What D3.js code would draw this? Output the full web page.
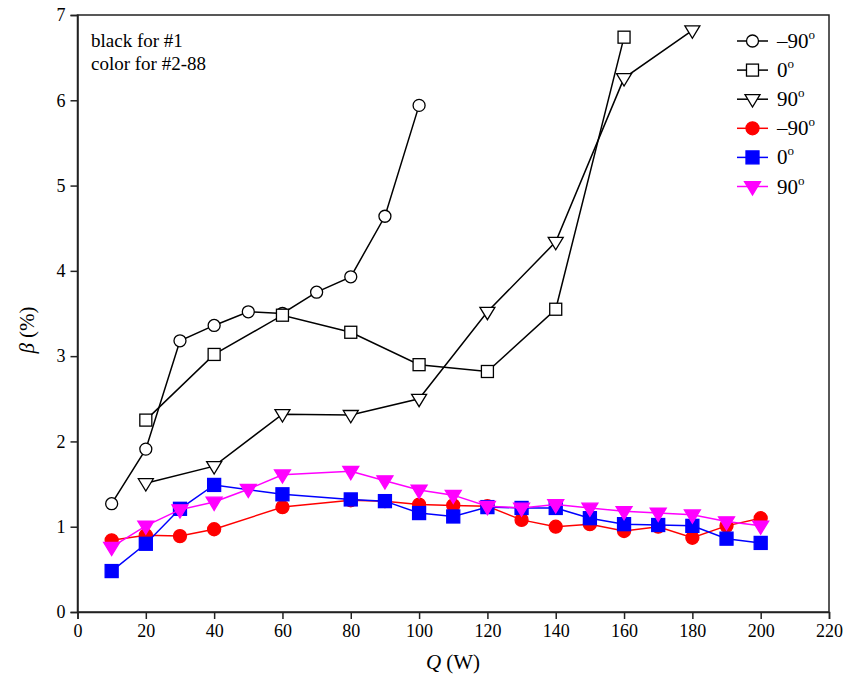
<!DOCTYPE html>
<html><head><meta charset="utf-8">
<script src="https://cdn.jsdelivr.net/npm/d3@7"></script>
</head><body style="margin:0">
<script>
const qBlackCircle = [10,20,30,40,50,60,70,80,90,100];
const bBlackCircle = [1.27,1.91,3.18,3.36,3.52,3.50,3.75,3.93,4.64,5.94];
const qBlackSquare = [20,40,60,80,100,120,140,160];
const bBlackSquare = [2.25,3.02,3.48,3.28,2.90,2.82,3.55,6.74];
const qBlackTri = [20,40,60,80,100,120,140,160,180];
const bBlackTri = [1.51,1.71,2.32,2.31,2.50,3.52,4.34,6.26,6.82];
const qRed = [10,20,30,40,60,80,90,100,110,120,130,140,150,160,170,180,190,200];
const bRed = [0.84,0.90,0.89,0.97,1.23,1.31,1.30,1.26,1.25,1.24,1.08,1.00,1.03,0.95,1.00,0.87,1.01,1.10];
const qBlue = [10,20,30,40,60,80,90,100,110,120,130,140,150,160,170,180,190,200];
const bBlue = [0.48,0.80,1.21,1.49,1.38,1.32,1.30,1.16,1.12,1.23,1.22,1.22,1.10,1.03,1.02,1.01,0.86,0.81];
const qMag = [10,20,30,40,50,60,80,90,100,110,120,130,140,150,160,170,180,190,200];
const bMag = [0.76,1.01,1.20,1.29,1.44,1.61,1.65,1.54,1.43,1.37,1.24,1.22,1.26,1.22,1.18,1.16,1.14,1.06,1.01];
const xTicks = [0,20,40,60,80,100,120,140,160,180,200,220];
const yTicks = [0,1,2,3,4,5,6,7];
const legendLabels = ["\u201390","0","90","\u201390","0","90"];
const annotation = ["black for #1","color for #2-88"];

const FONT="Liberation Serif, Times New Roman, serif";
const W=848,H=680, L=77.5,R=829,T=15,B=612;
const svg=d3.select("body").append("svg").attr("width",W).attr("height",H).style("display","block");
const x=d3.scaleLinear().domain([0,220]).range([L,R]);
const y=d3.scaleLinear().domain([0,7]).range([B,T]);
function ff(sel){ return sel.attr("font-family",FONT).style("font-family",FONT,"important"); }

svg.append("rect").attr("x",L).attr("y",T).attr("width",R-L).attr("height",B-T).attr("fill","none").attr("stroke","#222").attr("stroke-width",1.5);

const xa=svg.append("g").attr("transform",`translate(0,${B})`).call(d3.axisBottom(x).tickValues(xTicks).tickSize(7).tickPadding(5).tickFormat(d3.format("d")));
const ya=svg.append("g").attr("transform",`translate(${L},0)`).call(d3.axisLeft(y).tickValues(yTicks).tickSize(7).tickPadding(5).tickFormat(d3.format("d")));
[xa,ya].forEach(a=>{ff(a).attr("font-size",18);
 a.select(".domain").attr("stroke","#222").attr("stroke-width",1.5);
 a.selectAll(".tick line").attr("stroke","#222").attr("stroke-width",1.5);
 ff(a.selectAll(".tick text")).attr("font-size",18).attr("fill","#000");});

const xt=ff(svg.append("text")).attr("x",453).attr("y",669).attr("text-anchor","middle").attr("font-size",21);
ff(xt.append("tspan")).attr("font-style","italic").text("Q");
ff(xt.append("tspan")).text(" (W)");
const yt=ff(svg.append("text")).attr("transform","translate(34,330) rotate(-90)").attr("text-anchor","middle").attr("font-size",21);
ff(yt.append("tspan")).attr("font-style","italic").text("\u03B2");
ff(yt.append("tspan")).text(" (%)");

const line=d3.line().x(d=>x(d[0])).y(d=>y(d[1]));
const series=[
 {q:qBlackCircle,b:bBlackCircle,color:"#000",fill:"#fff",shape:"circle",size:6},
 {q:qBlackSquare,b:bBlackSquare,color:"#000",fill:"#fff",shape:"square",size:6},
 {q:qBlackTri,b:bBlackTri,color:"#000",fill:"#fff",shape:"tri",size:7.5},
 {q:qRed,b:bRed,color:"#ff0000",fill:"#ff0000",shape:"circle",size:6.5},
 {q:qBlue,b:bBlue,color:"#0000ff",fill:"#0000ff",shape:"square",size:6.5},
 {q:qMag,b:bMag,color:"#ff00ff",fill:"#ff00ff",shape:"tri",size:8}
];
function marker(g,s,cx,cy){
 if(s.shape==="circle") g.append("circle").attr("cx",cx).attr("cy",cy).attr("r",s.size).attr("fill",s.fill).attr("stroke",s.color).attr("stroke-width",1.3);
 else if(s.shape==="square") g.append("rect").attr("x",cx-s.size).attr("y",cy-s.size).attr("width",2*s.size).attr("height",2*s.size).attr("fill",s.fill).attr("stroke",s.color).attr("stroke-width",1.3);
 else { const r=s.size; g.append("path").attr("d",`M${cx-r},${cy-r*0.6}L${cx+r},${cy-r*0.6}L${cx},${cy+r*1.05}Z`).attr("fill",s.fill).attr("stroke",s.color).attr("stroke-width",1.3); }
}
series.forEach(s=>{
 const pts=s.q.map((q,i)=>[q,s.b[i]]);
 svg.append("path").datum(pts).attr("d",line).attr("fill","none").attr("stroke",s.color).attr("stroke-width",1.5);
 const g=svg.append("g");
 pts.forEach(p=>marker(g,s,x(p[0]),y(p[1])));
});

series.forEach((s,i)=>{
 const yy=41+i*29.1;
 const lg=svg.append("g");
 lg.append("line").attr("x1",737).attr("x2",768).attr("y1",yy).attr("y2",yy).attr("stroke",s.color).attr("stroke-width",1.5);
 marker(lg,s,752.5,yy);
 const t=ff(svg.append("text")).attr("x",777).attr("y",yy+7).attr("font-size",21);
 ff(t.append("tspan")).text(legendLabels[i]);
 ff(t.append("tspan")).attr("dy",-9).attr("font-size",13).text("o");
});

annotation.forEach((a,i)=>ff(svg.append("text")).attr("x",91).attr("y",47+i*23).attr("font-size",19).text(a));
</script></body></html>
